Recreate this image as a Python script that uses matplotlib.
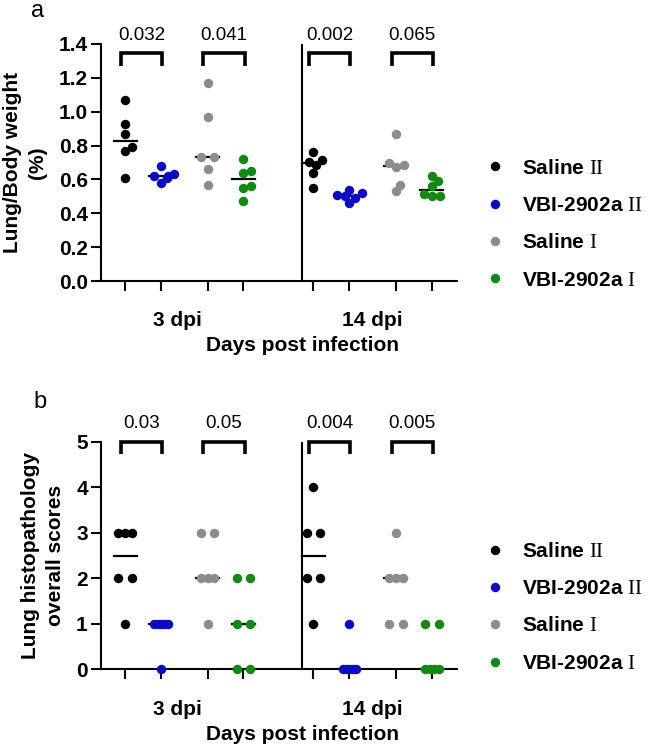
import numpy as np
import matplotlib.pyplot as plt
from matplotlib.lines import Line2D
from matplotlib.transforms import blended_transform_factory

plt.rcParams['font.family'] = 'Liberation Sans'
plt.rcParams['mathtext.fontset'] = 'custom'
plt.rcParams['mathtext.rm'] = 'Liberation Serif'
plt.rcParams['mathtext.bf'] = 'Liberation Serif:bold'

# data: each series holds [3 dpi values, 14 dpi values]
groups = ['Saline $\\mathrm{II}$', 'VBI-2902a $\\mathrm{II}$', 'Saline $\\mathrm{I}$', 'VBI-2902a $\\mathrm{I}$']
colors = ['#000000', '#0b0bc4', '#8c8c8c', '#128a12']
dpi_labels = ['3 dpi', '14 dpi']

weight_saline_II = [[1.07, 0.93, 0.87, 0.79, 0.77, 0.61], [0.76, 0.715, 0.705, 0.685, 0.64, 0.55]]
weight_vbi_II = [[0.68, 0.63, 0.62, 0.62, 0.61, 0.58], [0.54, 0.52, 0.51, 0.50, 0.49, 0.46]]
weight_saline_I = [[1.17, 0.97, 0.73, 0.73, 0.66, 0.57], [0.87, 0.70, 0.685, 0.675, 0.57, 0.53]]
weight_vbi_I = [[0.72, 0.65, 0.64, 0.56, 0.55, 0.47], [0.62, 0.59, 0.56, 0.515, 0.505, 0.50]]
weight_pvals = ['0.032', '0.041', '0.002', '0.065']

score_saline_II = [[3, 3, 3, 2, 2, 1], [4, 3, 3, 2, 2, 1]]
score_vbi_II = [[1, 1, 1, 1, 1, 0], [1, 0, 0, 0, 0, 0]]
score_saline_I = [[3, 3, 2, 2, 2, 1], [3, 2, 2, 2, 1, 1]]
score_vbi_I = [[2, 2, 1, 1, 0, 0], [1, 1, 0, 0, 0, 0]]
score_pvals = ['0.03', '0.05', '0.004', '0.005']

pos = [0, 1, 2.3, 3.3, 5.25, 6.25, 7.55, 8.55]


def swarm(vals, sx, sy, d=8.0, cap=13.5):
    # simple beeswarm in pixel space, tied values are spread evenly
    vals = np.asarray(vals, float)
    y = vals * sy
    offs = np.zeros(len(vals))
    placed = []
    for i in np.argsort(vals):
        cands = [0.0]
        for px, py in placed:
            dy = abs(py - y[i])
            if dy < d:
                dx = np.sqrt(d * d - dy * dy)
                cands += [px + dx, px - dx]
        cands.sort(key=abs)
        for c in cands:
            if all((c - px) ** 2 + (y[i] - py) ** 2 >= d * d - 1e-6 for px, py in placed):
                break
        placed.append((c, y[i]))
        offs[i] = c
    for v in np.unique(vals):
        idx = np.where(vals == v)[0]
        n = len(idx)
        if n > 1:
            offs[idx] = (np.arange(n) - (n - 1) / 2) * cap / (n - 1)
    return offs / sx


def draw_panel(ax, series, ymax, yticks, ylabel, pvals, br_top, br_leg, p_y, ylab_x, dpi_y, xl_y):
    ax.set_xlim(-0.67, 9.25)
    ax.set_ylim(0, ymax)
    t0 = ax.transData.transform((0, 0))
    t1 = ax.transData.transform((1, 1))
    sx, sy = t1[0] - t0[0], t1[1] - t0[1]
    for k, (vals_by_dpi, color) in enumerate(zip(series, colors)):
        for j, vals in enumerate(vals_by_dpi):
            p = pos[j * 4 + k]
            off = swarm(vals, sx, sy)
            ax.plot(p + off, vals, 'o', color=color, ms=6.8, mec='none', clip_on=False, zorder=3)
            m = np.median(vals)
            ax.plot([p - 0.32, p + 0.32], [m, m], color='k', lw=1.6, zorder=2)
    ax.axvline(4.94, color='k', lw=1.5)
    for i, txt in enumerate(pvals):
        x0 = pos[2 * i] - 0.12
        x1 = pos[2 * i + 1] + 0.03
        ax.plot([x0, x0, x1, x1], [br_leg, br_top, br_top, br_leg], color='k', lw=2.6,
                clip_on=False, solid_joinstyle='miter', solid_capstyle='butt')
        ax.text((x0 + x1) / 2, p_y, txt, ha='center', va='center', fontsize=13.5, clip_on=False)
    for s in ['top', 'right']:
        ax.spines[s].set_visible(False)
    for s in ['left', 'bottom']:
        ax.spines[s].set_linewidth(1.5)
    ax.set_yticks(yticks)
    ax.set_xticks(pos)
    ax.set_xticklabels([])
    ax.tick_params(length=7, width=1.5, labelsize=15, pad=2.5)
    for lab in ax.get_yticklabels():
        lab.set_fontweight('bold')
    ax.set_ylabel(ylabel, fontsize=15, fontweight='bold', linespacing=1.4)
    ax.yaxis.set_label_coords(ylab_x, 0.5)
    tr = blended_transform_factory(ax.transData, ax.transAxes)
    ax.text(1.45, dpi_y, dpi_labels[0], transform=tr, ha='center', va='center', fontsize=15, fontweight='bold')
    ax.text(6.9, dpi_y, dpi_labels[1], transform=tr, ha='center', va='center', fontsize=15, fontweight='bold')
    ax.text(4.94, xl_y, 'Days post infection', transform=tr, ha='center', va='center', fontsize=15, fontweight='bold')


fig = plt.figure(figsize=(6.54, 7.47), dpi=100)
axA = fig.add_axes([0.1544, 0.6238, 0.5443, 0.3173])
axB = fig.add_axes([0.1544, 0.1044, 0.5443, 0.3039])

draw_panel(axA, [weight_saline_II, weight_vbi_II, weight_saline_I, weight_vbi_I], 1.4,
           np.arange(0, 1.41, 0.2), 'Lung/Body weight\n(%)', weight_pvals,
           1.347, 1.27, 1.453, -0.152, -0.165, -0.27)
axA.set_yticklabels([f'{v:.1f}' for v in np.arange(0, 1.41, 0.2)], fontweight='bold')
draw_panel(axB, [score_saline_II, score_vbi_II, score_saline_I, score_vbi_I], 5,
           range(6), 'Lung histopathology\noverall scores', score_pvals,
           5.0, 4.74, 5.41, -0.101, -0.18, -0.29)

handles = [Line2D([], [], marker='o', ls='', color=c, mec='none', ms=6.8) for c in colors]
for yc in [0.700, 0.187]:
    fig.legend(handles, groups, loc='center left', bbox_to_anchor=(0.741, yc), frameon=False,
               prop={'size': 15, 'weight': 'bold'}, handlelength=1.0, handletextpad=0.8,
               labelspacing=0.88, borderpad=0, borderaxespad=0)

fig.text(38 / 654, 1 - 17 / 747, 'a', fontsize=17, ha='center', va='baseline')
fig.text(40 / 654, 1 - 408 / 747, 'b', fontsize=17, ha='center', va='baseline')

fig.savefig('out.png', dpi=100)
